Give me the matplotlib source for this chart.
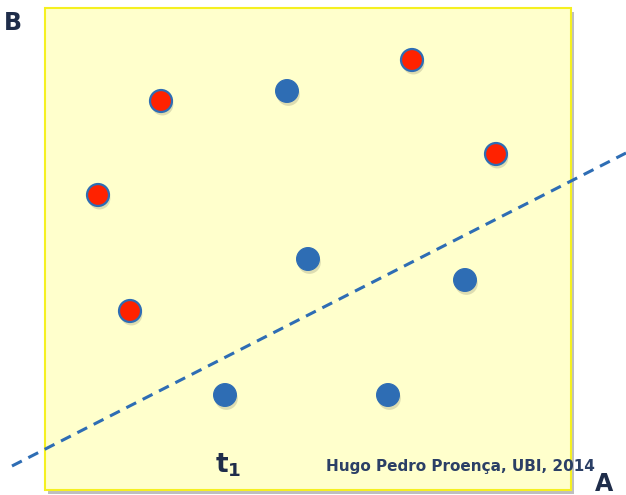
import matplotlib.pyplot as plt
import matplotlib.patches as mpatches
import matplotlib.patheffects as pe

# point positions (picture coordinates, y grows downward)
red_x = [161, 412, 496, 98, 130]
red_y = [101, 60, 154, 195, 311]
blue_x = [287, 308, 465, 225, 388]
blue_y = [91, 259, 280, 395, 395]

# dashed separating line t1
line_x = [12, 626]
line_y = [466, 153]

navy = '#1F2D4A'
blue = '#2E6DB4'
red = '#FF2200'

fig = plt.figure(figsize=(6.26, 4.95), dpi=100, facecolor='white')
ax = fig.add_axes([0, 0, 1, 1])
ax.set_xlim(0, 626)
ax.set_ylim(495, 0)
ax.axis('off')

shadow = [pe.SimplePatchShadow(offset=(2, -3), shadow_rgbFace='gray', alpha=0.5), pe.Normal()]

box = mpatches.Rectangle((45, 8), 526, 482, facecolor='#FFFFCC', edgecolor='#F5F020',
                         linewidth=1.5, zorder=1)
box.set_path_effects(shadow)
ax.add_patch(box)

ax.plot(line_x, line_y, linestyle=(0, (3.6, 2.4)), color=blue, linewidth=2.2, zorder=2)

dot_shadow = [pe.SimplePatchShadow(offset=(1, -2.5), shadow_rgbFace='#A0A080', alpha=0.35), pe.Normal()]
sc1 = ax.scatter(blue_x, blue_y, s=270, color=blue, edgecolors=blue, linewidths=0.8, zorder=3)
sc1.set_path_effects(dot_shadow)
sc2 = ax.scatter(red_x, red_y, s=250, color=red, edgecolors=blue, linewidths=1.6, zorder=3)
sc2.set_path_effects(dot_shadow)

ax.text(13, 23, 'B', fontsize=17, fontweight='bold', color=navy, ha='center', va='center')
ax.text(604, 484, 'A', fontsize=17, fontweight='bold', color=navy, ha='center', va='center')
ax.text(228, 465, r'$\mathbf{t_1}$', fontsize=19, color=navy, ha='center', va='center')
ax.text(460, 466, 'Hugo Pedro Proença, UBI, 2014', fontsize=11, fontweight='bold',
        color='#2B3F66', ha='center', va='center', zorder=4)

fig.savefig('out.png', dpi=100)
